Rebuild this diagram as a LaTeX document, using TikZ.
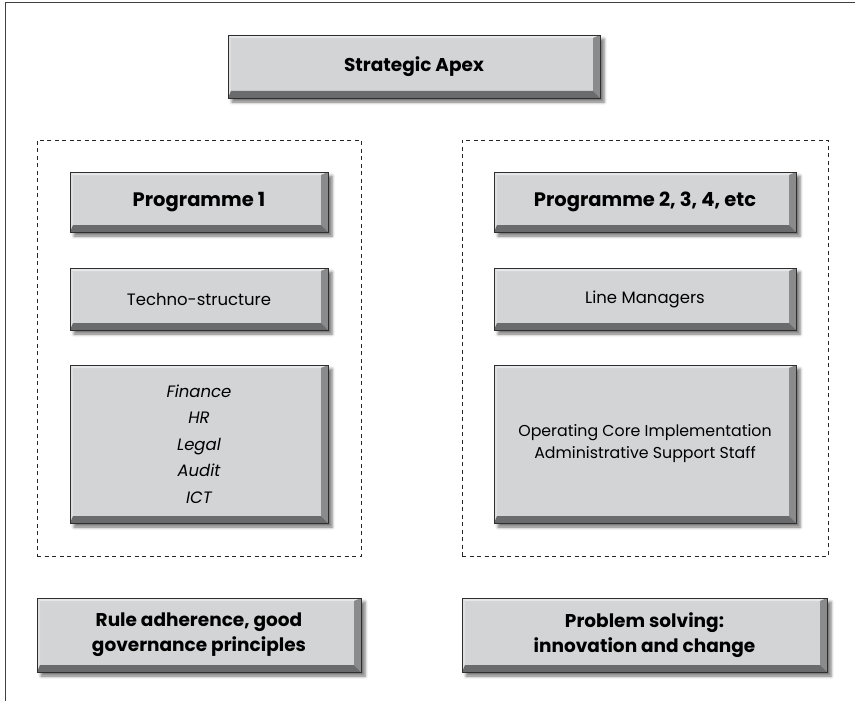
\documentclass[tikz,border=0pt]{standalone}
\usepackage{fontspec}
\setmainfont{Poppins}
\usetikzlibrary{shadows.blur}
\definecolor{boxfill}{HTML}{D3D4D6}
\definecolor{bevtop}{HTML}{E6E7E8}
\definecolor{bevleft}{HTML}{DEDFE0}
\definecolor{bevright}{HTML}{8A8B8C}
\definecolor{bevbot}{HTML}{6A6B6C}
\definecolor{edge}{HTML}{2E2E2E}
\def\ppb{path picture bounding box}
\tikzset{
  bev/.style={draw=edge, line width=0.7pt, fill=boxfill, inner sep=0pt, align=center,
    blur shadow={shadow xshift=4pt, shadow yshift=-4pt, shadow blur radius=3pt, shadow opacity=55},
    path picture={
      \fill[bevtop] (\ppb.north west) -- (\ppb.north east) -- ([xshift=-7pt,yshift=-3pt]\ppb.north east) -- ([xshift=3pt,yshift=-3pt]\ppb.north west) -- cycle;
      \fill[bevleft] (\ppb.north west) -- ([xshift=3pt,yshift=-3pt]\ppb.north west) -- ([xshift=3pt,yshift=7pt]\ppb.south west) -- (\ppb.south west) -- cycle;
      \fill[bevright] (\ppb.north east) -- ([xshift=-7pt,yshift=-3pt]\ppb.north east) -- ([xshift=-7pt,yshift=7pt]\ppb.south east) -- (\ppb.south east) -- cycle;
      \fill[bevbot] (\ppb.south west) -- ([xshift=3pt,yshift=7pt]\ppb.south west) -- ([xshift=-7pt,yshift=7pt]\ppb.south east) -- (\ppb.south east) -- cycle;
    }},
  dashbox/.style={draw=black!85, line width=0.9pt, dash pattern=on 4pt off 3.5pt, inner sep=0pt},
  frame/.style={draw=black!75, line width=1pt},
  regtxt/.style={font=\fontsize{16.5}{22}\selectfont},
  boldtxt/.style={font=\fontsize{18.5}{25}\selectfont\bfseries},
  progtxt/.style={font=\fontsize{19.5}{25}\selectfont\bfseries},
}
\begin{document}
\begin{tikzpicture}[x=1pt,y=-1pt]
\useasboundingbox (0,0) rectangle (855,701);
\coordinate (fb) at (5.5,701);
\coordinate (fc) at (5.5,3);
\coordinate (fr) at (855,3);
\draw[frame] (fb) -- (fc) -- (fr);

\node[dashbox, minimum width=324pt, minimum height=416pt] (g1) at (199,348) {};
\node[dashbox, minimum width=366pt, minimum height=416pt] (g2) at (645,348) {};

\node[bev, boldtxt, minimum width=372pt, minimum height=63pt] (apex) at (414,66.5) {Strategic Apex};

\node[bev, progtxt, minimum width=258pt, minimum height=60pt] (p1) at (199,202) {Programme 1};
\node[bev, regtxt, minimum width=258pt, minimum height=62pt] (techno) at (199,299) {Techno-structure};
\node[bev, font=\fontsize{16.5}{26.5}\selectfont\itshape, minimum width=258pt, minimum height=158pt] (fin) at (199,444) {Finance\\HR\\Legal\\Audit\\ICT};

\node[bev, progtxt, minimum width=302pt, minimum height=60pt] (p2) at (645,202) {Programme 2, 3, 4, etc};
\node[bev, regtxt, minimum width=302pt, minimum height=62pt] (line) at (645,299) {Line Managers};
\node[bev, font=\fontsize{15.8}{22}\selectfont, minimum width=302pt, minimum height=158pt] (op) at (645,444) {Operating Core Implementation\\Administrative Support Staff};

\node[bev, boldtxt, minimum width=324pt, minimum height=74pt] (rule) at (199,635) {Rule adherence, good\\governance principles};
\node[bev, boldtxt, minimum width=365pt, minimum height=74pt] (prob) at (644.5,635) {Problem solving:\\innovation and change};
\end{tikzpicture}
\end{document}
